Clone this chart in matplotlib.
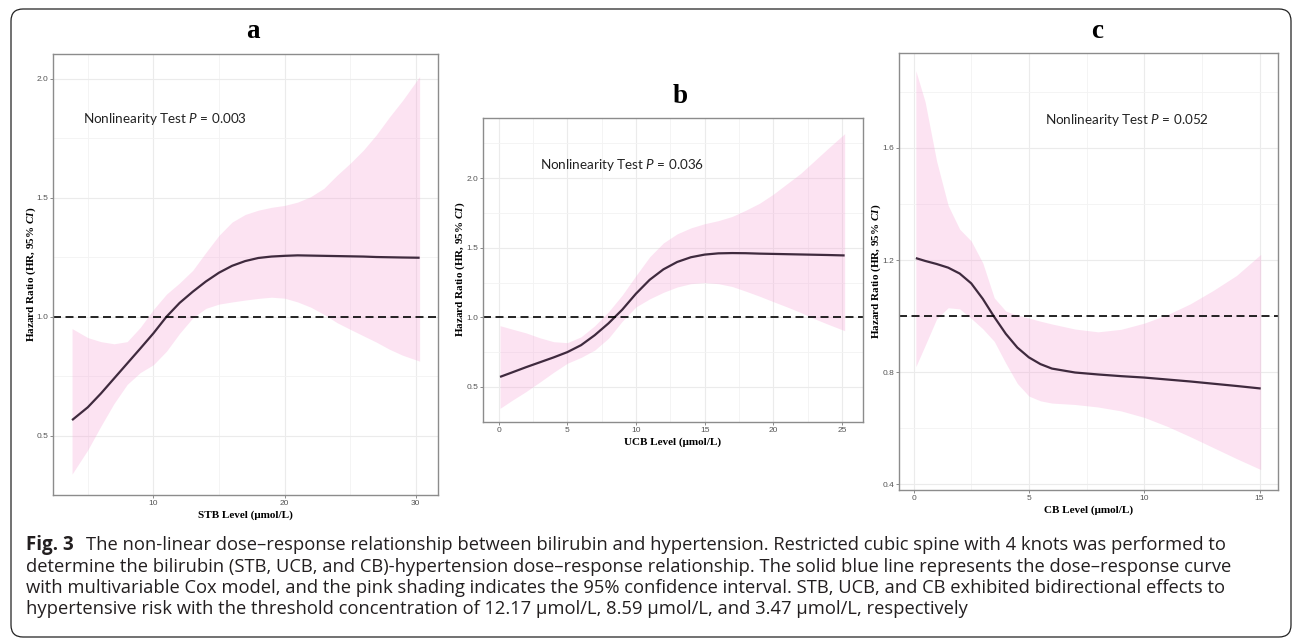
import matplotlib
matplotlib.use("Agg")
import matplotlib.pyplot as plt
from matplotlib.patches import FancyBboxPatch
from matplotlib.transforms import IdentityTransform
from matplotlib.ticker import MultipleLocator, FormatStrFormatter

# ─── Data ────────────────────────────────────────────────────────────────────
stb_x = [3.8, 5, 6, 7, 8, 9, 10, 11, 12, 13, 14, 15, 16, 17, 18, 19, 20,
         21, 22, 23, 24, 25, 26, 27, 28, 29, 30.3]
stb_hr = [0.565, 0.619, 0.677, 0.740, 0.803, 0.866, 0.930, 1.000, 1.058, 1.105,
          1.148, 1.185, 1.214, 1.234, 1.247, 1.253, 1.256, 1.258, 1.257, 1.256,
          1.255, 1.254, 1.253, 1.251, 1.250, 1.249, 1.248]
stb_lo = [0.338, 0.440, 0.540, 0.635, 0.715, 0.765, 0.798, 0.855, 0.930, 0.995,
          1.035, 1.053, 1.062, 1.070, 1.077, 1.082, 1.078, 1.062, 1.040, 1.010,
          0.975, 0.947, 0.920, 0.893, 0.863, 0.838, 0.813]
stb_hi = [0.950, 0.912, 0.895, 0.886, 0.895, 0.955, 1.030, 1.095, 1.142, 1.195,
          1.270, 1.342, 1.398, 1.430, 1.448, 1.460, 1.468, 1.482, 1.505, 1.540,
          1.595, 1.645, 1.700, 1.765, 1.840, 1.910, 2.010]

ucb_x = [0.1, 1, 2, 3, 4, 5, 6, 7, 8, 9, 10, 11, 12, 13, 14, 15, 16, 17, 18,
         19, 20, 21, 22, 23, 24, 25.2]
ucb_hr = [0.572, 0.605, 0.642, 0.677, 0.712, 0.750, 0.800, 0.872, 0.957, 1.055,
          1.170, 1.270, 1.345, 1.398, 1.432, 1.451, 1.460, 1.462, 1.461, 1.458,
          1.456, 1.454, 1.452, 1.450, 1.448, 1.445]
ucb_lo = [0.346, 0.405, 0.467, 0.535, 0.605, 0.670, 0.712, 0.765, 0.850, 0.972,
          1.075, 1.133, 1.180, 1.218, 1.242, 1.250, 1.242, 1.222, 1.188, 1.152,
          1.113, 1.075, 1.035, 0.990, 0.950, 0.904]
ucb_hi = [0.940, 0.915, 0.888, 0.853, 0.825, 0.818, 0.860, 0.940, 1.040, 1.160,
          1.300, 1.435, 1.535, 1.600, 1.643, 1.673, 1.695, 1.725, 1.770, 1.820,
          1.885, 1.960, 2.035, 2.125, 2.215, 2.320]

cb_x = [0.1, 0.5, 1, 1.5, 2, 2.5, 3, 3.5, 4, 4.5, 5, 5.5, 6, 7, 8, 9, 10, 11,
        12, 13, 14, 15.05]
cb_hr = [1.207, 1.197, 1.186, 1.173, 1.152, 1.117, 1.062, 0.997, 0.937, 0.888,
         0.853, 0.829, 0.813, 0.799, 0.792, 0.786, 0.781, 0.774, 0.767, 0.759,
         0.751, 0.742]
cb_lo = [0.820, 0.895, 0.990, 1.030, 1.026, 0.992, 0.955, 0.910, 0.832, 0.760,
         0.715, 0.698, 0.690, 0.685, 0.676, 0.662, 0.639, 0.607, 0.570, 0.531,
         0.492, 0.453]
cb_hi = [1.875, 1.765, 1.553, 1.395, 1.310, 1.268, 1.190, 1.065, 1.018, 1.003,
         0.993, 0.982, 0.972, 0.954, 0.944, 0.953, 0.975, 1.005, 1.044, 1.092,
         1.145, 1.220]

panel_letters = ["a", "b", "c"]
p_values = ["0.003", "0.036", "0.052"]
x_titles = ["STB Level (μmol/L)", "UCB Level (μmol/L)", "CB Level (μmol/L)"]
y_title = "Hazard Ratio (HR, 95% $\\mathit{CI}$)"

caption_head = "Fig. 3"
caption_lines = [
    "The non-linear dose–response relationship between bilirubin and hypertension. "
    "Restricted cubic spine with 4 knots was performed to",
    "determine the bilirubin (STB, UCB, and CB)-hypertension dose–response relationship. "
    "The solid blue line represents the dose–response curve",
    "with multivariable Cox model, and the pink shading indicates the 95% confidence "
    "interval. STB, UCB, and CB exhibited bidirectional effects to",
    "hypertensive risk with the threshold concentration of 12.17 μmol/L, 8.59 μmol/L, "
    "and 3.47 μmol/L, respectively",
]

# ─── Style ───────────────────────────────────────────────────────────────────
W, H = 1293, 640
plt.rcParams["mathtext.fontset"] = "custom"
plt.rcParams["mathtext.it"] = "Liberation Serif:italic:bold"
plt.rcParams["mathtext.sf"] = "Lato:italic"

RIBBON = "#F7A8D8"
CURVE = "#3F2A3E"
SERIF = "Liberation Serif"


def fx(x):
    return x / W


def fy(y):
    return 1 - y / H


# pixel boxes (left, top, right, bottom) and per-panel layout
layout = [
    dict(box=(53.3, 54, 438, 495), xlim=(2.37, 31.7), ylim=(0.25, 2.105),
         xstep=10, ystep=0.5, title=(253, 38), note=(83, 119)),
    dict(box=(483, 117.7, 862.5, 421.7), xlim=(-1.14, 26.5), ylim=(0.25, 2.435),
         xstep=5, ystep=0.5, title=(680, 103), note=(540, 165)),
    dict(box=(899, 53.4, 1278, 490), xlim=(-0.63, 15.8), ylim=(0.38, 1.937),
         xstep=5, ystep=0.4, title=(1097, 38), note=(1045, 120)),
]
series = [(stb_x, stb_hr, stb_lo, stb_hi),
          (ucb_x, ucb_hr, ucb_lo, ucb_hi),
          (cb_x, cb_hr, cb_lo, cb_hi)]

fig = plt.figure(figsize=(W / 100, H / 100), dpi=100)

for i, (cfg, (x, hr, lo, hi)) in enumerate(zip(layout, series)):
    l, t, r, b = cfg["box"]
    wpx, hpx = r - l, b - t
    ax = fig.add_axes([fx(l), fy(b), wpx / W, hpx / H])
    ax.set_axisbelow(True)

    ax.fill_between(x, lo, hi, color=RIBBON, alpha=0.32, lw=0)
    ax.plot(x, hr, color=CURVE, lw=1.6, solid_capstyle="butt")
    ax.axhline(1.0, color="black", lw=1.2, ls=(0, (4.8, 2.7)))

    ax.set_xlim(*cfg["xlim"])
    ax.set_ylim(*cfg["ylim"])
    ax.xaxis.set_major_locator(MultipleLocator(cfg["xstep"]))
    ax.xaxis.set_minor_locator(MultipleLocator(cfg["xstep"] / 2))
    ax.yaxis.set_major_locator(MultipleLocator(cfg["ystep"]))
    ax.yaxis.set_minor_locator(MultipleLocator(cfg["ystep"] / 2))
    ax.yaxis.set_major_formatter(FormatStrFormatter("%.1f"))
    ax.xaxis.set_major_formatter(FormatStrFormatter("%d"))

    ax.grid(which="major", color="#EBEBEB", lw=0.8)
    ax.grid(which="minor", color="#F3F3F3", lw=0.6)
    ax.tick_params(which="major", length=2, width=0.6, color="#777777",
                   labelsize=6, labelcolor="#555555", pad=1.5)
    ax.tick_params(which="minor", length=0)
    for lab in ax.get_xticklabels() + ax.get_yticklabels():
        lab.set_fontfamily("Liberation Sans")
    for sp in ax.spines.values():
        sp.set_color("#8C8C8C")
        sp.set_linewidth(1.0)

    ax.set_xlabel(x_titles[i], fontfamily=SERIF, fontweight="bold",
                  fontsize=8, va="center")
    ax.xaxis.set_label_coords(0.5, -20 / hpx)
    ax.set_ylabel(y_title, fontfamily=SERIF, fontweight="bold",
                  fontsize=8, va="center")
    ax.yaxis.set_label_coords(-22.5 / wpx, 0.5)

    tx, ty = cfg["title"]
    fig.text(fx(tx), fy(ty), panel_letters[i], ha="center", va="baseline",
             fontfamily=SERIF, fontweight="bold", fontsize=19.5)
    nx, ny = cfg["note"]
    fig.text(fx(nx), fy(ny),
             "Nonlinearity Test $\\mathsf{P}$ = " + p_values[i],
             ha="left", va="center", fontfamily="Lato", fontsize=9.7,
             color="#222222")

# ─── Caption ─────────────────────────────────────────────────────────────────
cap_y = [545, 566.5, 588, 609.5]
fig.text(fx(26), fy(cap_y[0]), caption_head, ha="left", va="center",
         fontfamily="Open Sans", fontweight="bold", fontsize=13.5, color="#231F20")
for k, line in enumerate(caption_lines):
    fig.text(fx(86 if k == 0 else 26), fy(cap_y[k]), line, ha="left", va="center",
             fontfamily="Open Sans", fontsize=13.2, color="#231F20")

frame = FancyBboxPatch((11, H - 637), 1280, 628,
                       boxstyle="round,pad=0,rounding_size=12",
                       transform=IdentityTransform(), fill=False,
                       ec="#222222", lw=0.9)
fig.add_artist(frame)

fig.savefig("out.png", dpi=100)
